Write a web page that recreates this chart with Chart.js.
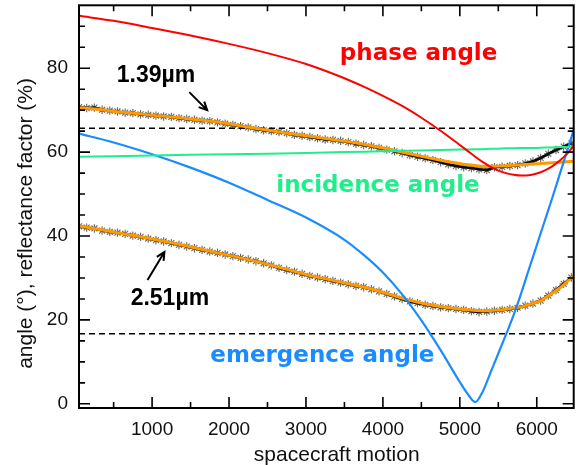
<!DOCTYPE html>
<html>
<head>
<meta charset="utf-8">
<script src="https://cdn.jsdelivr.net/npm/chart.js@4.4.1/dist/chart.umd.min.js"></script>
<style>
  html, body { margin: 0; padding: 0; background: #fff; }
</style>
</head>
<body>
<canvas id="grafico" width="579" height="465"></canvas>
<script>
// spacecraft motion positions of the measured reflectance samples
const motion = [50,150,250,350,450,550,650,750,850,950,1050,1150,1250,1350,1450,1550,1650,1750,1850,1950,
  2050,2150,2250,2350,2450,2550,2650,2750,2850,2950,3050,3150,3250,3350,3450,3550,3650,3750,3850,3950,
  4050,4150,4250,4350,4450,4550,4650,4750,4850,4950,5050,5150,5250,5350,5450,5550,5650,5750,5850,5950,
  6050,6150,6250,6350,6450];
const refl139 = [70.7,70.5,70.6,70.1,69.9,69.7,69.4,69.3,69.0,68.9,68.7,68.5,68.4,68.1,67.9,67.7,67.5,67.4,67.1,66.8,
  66.5,66.2,65.9,65.5,65.2,65.0,64.8,64.5,64.1,63.9,63.6,63.3,63.0,62.9,62.7,62.4,62.0,61.7,61.4,61.0,
  60.6,60.2,59.8,59.3,58.9,58.5,58.1,57.6,57.1,56.7,56.4,56.2,55.9,55.7,56.4,56.5,56.7,56.9,57.3,57.8,
  58.6,59.6,60.5,61.3,62.1];
const refl251 = [42.3,42.0,41.8,41.3,41.0,40.8,40.5,40.1,39.8,39.4,39.0,38.7,38.3,37.9,37.5,37.1,36.7,36.3,36.0,35.6,
  35.2,34.8,34.4,34.0,33.5,33.0,32.4,31.9,31.5,31.0,30.5,30.1,29.7,29.3,28.9,28.5,28.1,27.8,27.3,26.8,
  26.2,25.6,25.0,24.4,24.0,23.6,23.3,23.0,22.8,22.6,22.4,22.1,21.9,22.0,22.2,22.4,22.6,22.9,23.4,23.9,
  24.6,25.8,27.1,28.6,30.1];

// model fits (orange)
const fitX = [50,300,550,800,1050,1300,1550,1800,2050,2300,2550,2800,3050,3300,3550,3800,4050,4300,4550,4800,5050,5300,5550,5800,6050,6300,6480];
const fit139 = [70.6,70.2,69.6,69.2,68.7,68.3,67.8,67.3,66.6,65.8,65.1,64.4,63.8,63.1,62.5,61.7,60.8,59.8,58.8,57.9,57.1,56.6,56.7,57.0,57.3,57.6,57.8];
const fit251 = [42.4,41.6,40.8,40.0,39.1,38.2,37.2,36.2,35.2,34.2,33.0,31.8,30.6,29.6,28.6,27.6,26.3,24.9,23.8,23.0,22.5,22.1,22.4,23.1,24.5,27.6,30.5];

// geometry angles
const angleX = [50,500,1000,1500,2000,2500,3000,3500,3750,4000,4250,4500,4750,5000,5100,5200,5300,5400,5500,5600,5700,5800,5900,6000,6100,6200,6300,6400,6480];
const phase = [92.5,91.3,89.6,87.8,85.8,83.6,81.0,77.6,75.6,73.4,71.0,68.2,65.1,61.7,60.3,58.9,57.6,56.5,55.6,55.0,54.6,54.4,54.5,54.9,55.6,56.6,58.0,59.7,61.5];
const incidence = [58.9,59.0,59.2,59.4,59.5,59.6,59.8,60.0,60.1,60.2,60.3,60.4,60.5,60.6,60.6,60.7,60.7,60.8,60.8,60.9,60.9,61.0,61.0,61.0,61.1,61.1,61.2,61.2,61.3];
const emergence = [64.4,62.3,59.5,56.3,52.7,48.6,44.4,39.1,35.5,31.3,26.1,19.9,12.8,5.2,2.4,0.4,3.0,7.5,12.0,16.5,21.2,26.5,32.2,37.8,43.4,49.0,54.8,60.6,65.3];

const dashLevels = [65.7, 16.7];
const xRange = [50, 6480];
const yRange = [-1, 95];
const xTickLabels = [1000, 2000, 3000, 4000, 5000, 6000];
const yTickLabels = [0, 20, 40, 60, 80];

const RED = '#ff0000', GREEN = '#1eee8c', BLUE = '#1a8cff', ORANGE = '#ff9900';
const TXT = '#111';
const TITLE_FONT = '21px "Liberation Sans"';

const pts = (xs, ys) => xs.map((v, i) => ({ x: v, y: ys[i] }));

const notes = [
  { text: 'phase angle', x: 4464, y: 83.4, color: RED, font: 'bold 23px "DejaVu Sans"' },
  { text: 'incidence angle', x: 3936, y: 51.8, color: GREEN, font: 'bold 23px "DejaVu Sans"' },
  { text: 'emergence angle', x: 3213, y: 11.4, color: BLUE, font: 'bold 23px "DejaVu Sans"' },
  { text: '1.39µm', x: 1051, y: 78.3, color: '#000', font: 'bold 23px "Liberation Sans"' },
  { text: '2.51µm', x: 1231, y: 25.0, color: '#000', font: 'bold 23px "Liberation Sans"' }
];
const arrows = [
  { from: [1483, 74.3], to: [1716, 70.0] },
  { from: [941, 29.5], to: [1160, 36.2] }
];

const frame = {
  id: 'frame',
  afterDatasetsDraw(chart) {
    const { ctx, chartArea: a, scales: { x, y } } = chart;
    ctx.save();
    ctx.strokeStyle = '#000';
    ctx.lineWidth = 2;
    ctx.strokeRect(a.left, a.top, a.right - a.left, a.bottom - a.top);
    ctx.lineWidth = 1.6;
    ctx.beginPath();
    for (let v = 500; v < xRange[1]; v += 500) {
      const px = x.getPixelForValue(v), len = v % 1000 === 0 ? 11 : 6;
      ctx.moveTo(px, a.bottom); ctx.lineTo(px, a.bottom - len);
      ctx.moveTo(px, a.top); ctx.lineTo(px, a.top + len);
    }
    for (let v = 0; v < yRange[1]; v += 5) {
      const py = y.getPixelForValue(v), len = v % 20 === 0 ? 11 : 6;
      ctx.moveTo(a.left, py); ctx.lineTo(a.left + len, py);
      ctx.moveTo(a.right, py); ctx.lineTo(a.right - len, py);
    }
    ctx.stroke();

    ctx.textAlign = 'center';
    ctx.textBaseline = 'middle';
    notes.forEach(n => {
      ctx.font = n.font;
      ctx.fillStyle = n.color;
      ctx.fillText(n.text, x.getPixelForValue(n.x), y.getPixelForValue(n.y));
    });

    // axis titles (sit a little off-centre in the original)
    ctx.font = TITLE_FONT;
    ctx.fillStyle = TXT;
    ctx.fillText('spacecraft motion', x.getPixelForValue(3400), 455);
    ctx.save();
    ctx.translate(26, y.getPixelForValue(43));
    ctx.rotate(-Math.PI / 2);
    ctx.fillText('angle (°), reflectance factor (%)', 0, 0);
    ctx.restore();

    ctx.strokeStyle = '#000';
    ctx.lineWidth = 2;
    arrows.forEach(ar => {
      const x0 = x.getPixelForValue(ar.from[0]), y0 = y.getPixelForValue(ar.from[1]);
      const x1 = x.getPixelForValue(ar.to[0]), y1 = y.getPixelForValue(ar.to[1]);
      const ang = Math.atan2(y1 - y0, x1 - x0), h = 9;
      ctx.beginPath();
      ctx.moveTo(x0, y0); ctx.lineTo(x1, y1);
      ctx.moveTo(x1 - h * Math.cos(ang - 0.45), y1 - h * Math.sin(ang - 0.45));
      ctx.lineTo(x1, y1);
      ctx.lineTo(x1 - h * Math.cos(ang + 0.45), y1 - h * Math.sin(ang + 0.45));
      ctx.stroke();
    });
    ctx.restore();
  }
};

const dataSet = (label, data, extra) => Object.assign({
  label, data, fill: false, tension: 0, pointRadius: 0, borderWidth: 2
}, extra);

const stars = {
  borderColor: '#000', borderWidth: 2.6, pointStyle: 'star', pointRadius: 4.2,
  pointBorderColor: 'rgba(20,20,20,0.65)', pointBorderWidth: 1.1
};

const ctx = document.getElementById('grafico').getContext('2d');
new Chart(ctx, {
  type: 'line',
  data: {
    datasets: [
      dataSet('phase angle', pts(angleX, phase), { borderColor: RED, cubicInterpolationMode: 'monotone', order: 1 }),
      dataSet('incidence angle', pts(angleX, incidence), { borderColor: GREEN, order: 2 }),
      dataSet('emergence angle', pts(angleX, emergence), { borderColor: BLUE, borderWidth: 2.2, cubicInterpolationMode: 'monotone', order: 3 }),
      dataSet('fit 1.39µm', pts(fitX, fit139), { borderColor: ORANGE, borderWidth: 3, order: 4 }),
      dataSet('fit 2.51µm', pts(fitX, fit251), { borderColor: ORANGE, borderWidth: 3, order: 5 }),
      dataSet('1.39µm', pts(motion, refl139), Object.assign({ order: 6 }, stars)),
      dataSet('2.51µm', pts(motion, refl251), Object.assign({ order: 7 }, stars)),
      ...dashLevels.map(v => dataSet('level', pts(xRange, [v, v]), {
        borderColor: '#000', borderWidth: 1.6, borderDash: [6, 4], order: 8
      }))
    ]
  },
  options: {
    responsive: false,
    animation: false,
    layout: { padding: { top: 5, right: 2, left: 0, bottom: 0 } },
    plugins: { legend: { display: false }, tooltip: { enabled: false } },
    scales: {
      x: {
        type: 'linear', min: xRange[0], max: xRange[1],
        grid: { display: false, drawTicks: false }, border: { display: false },
        afterBuildTicks: s => { s.ticks = xTickLabels.map(v => ({ value: v })); },
        afterFit: s => { s.height = 57; s.paddingLeft = 0; s.paddingRight = 0; },
        ticks: { autoSkip: false, maxRotation: 0, padding: 10, color: TXT, callback: v => String(v),
          font: { family: '"Liberation Sans"', size: 19 } }
      },
      y: {
        min: yRange[0], max: yRange[1],
        grid: { display: false, drawTicks: false }, border: { display: false },
        afterBuildTicks: s => { s.ticks = yTickLabels.map(v => ({ value: v })); },
        afterFit: s => { s.width = 79; s.paddingTop = 0; s.paddingBottom = 0; },
        ticks: { padding: 11, color: TXT, callback: v => String(v),
          font: { family: '"Liberation Sans"', size: 19 } }
      }
    }
  },
  plugins: [frame]
});
</script>
</body>
</html>
